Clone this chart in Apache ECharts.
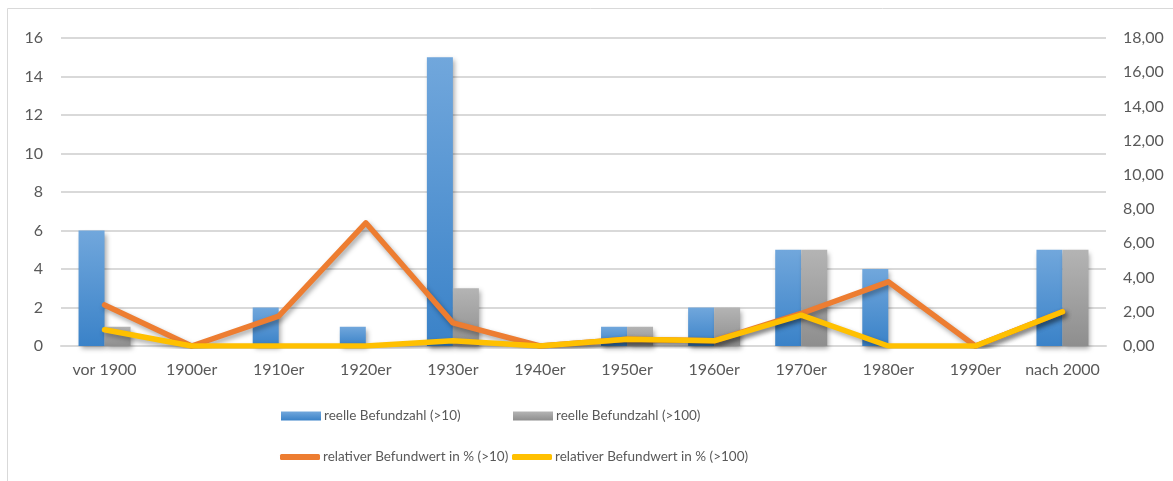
<!DOCTYPE html>
<html>
  <head>
    <meta charset="utf-8">
    <title></title>
    <style media="screen">
    html, body {margin:0; padding:0; background:#fff}
    .box {width:1173px; height:481px}
    </style>
    <script src="https://cdn.jsdelivr.net/npm/echarts@6/dist/echarts.min.js" charset="utf-8"></script>
    <script>
    const categories=['vor 1900','1900er','1910er','1920er','1930er','1940er','1950er','1960er','1970er','1980er','1990er','nach 2000'];
    const befund10=[6, 0, 2, 1, 15, 0, 1, 2, 5, 4, 0, 5];
    const befund100=[1, 0, 0, 0, 3, 0, 1, 2, 5, 0, 0, 5];
    const relativ10=[2.4, 0, 1.75, 7.2, 1.35, 0, 0.4, 0.3, 1.9, 3.75, 0, 2.0];
    const relativ100=[0.95, 0, 0, 0, 0.3, 0, 0.4, 0.3, 1.8, 0, 0, 2.0];
    const names=['reelle Befundzahl (>10)','reelle Befundzahl (>100)','relativer Befundwert in % (>10)','relativer Befundwert in % (>100)'];

    window.onload=function (){
      let font='Lato';
      let textColor='#595959';
      let shadow={shadowColor:'rgba(0,0,0,0.35)', shadowBlur:5, shadowOffsetX:2, shadowOffsetY:3};

      function grad(top, bottom){
        return new echarts.graphic.LinearGradient(0,0,0,1,[{offset:0,color:top},{offset:1,color:bottom}]);
      }

      function legend(name, left, top, icon){
        return {
          data:[name], left:left, top:top, icon:icon,
          itemWidth:40, itemHeight: icon=='rect' ? 9 : 6,
          itemGap:0, padding:0,
          textStyle:{fontFamily:font, fontSize:13.5, color:textColor, padding:[0,0,0,-2]}
        };
      }

      let option={
        animation:false,
        graphic:[{type:'rect', shape:{x:7.5,y:8.5,width:1170,height:480}, style:{fill:'none', stroke:'#d9d9d9', lineWidth:1}, silent:true}],
        legend:[
          legend(names[0], 281, 409, 'rect'),
          legend(names[1], 513, 409, 'rect'),
          legend(names[2], 280, 450, 'roundRect'),
          legend(names[3], 512, 450, 'roundRect')
        ],
        grid:{left:61, right:67, top:38, bottom:135},
        xAxis:{
          type:'category', data:categories,
          axisLine:{lineStyle:{color:'#d9d9d9', width:2}},
          axisTick:{show:false},
          axisLabel:{fontFamily:font, fontSize:16, color:textColor, margin:16, interval:0}
        },
        yAxis:[
          {
            type:'value', min:0, max:16, interval:2,
            axisLine:{show:false}, axisTick:{show:false},
            axisLabel:{fontFamily:font, fontSize:16, color:textColor, margin:18},
            splitLine:{lineStyle:{color:'#d9d9d9', width:2}}
          },
          {
            type:'value', min:0, max:18, interval:2,
            axisLine:{show:false}, axisTick:{show:false},
            axisLabel:{fontFamily:font, fontSize:16, color:textColor, margin:17,
              formatter:v=>v.toFixed(2).replace('.',',')},
            splitLine:{show:false}
          }
        ],
        series:[
          {
            name:names[0], type:'bar', data:befund10, barWidth:26, barGap:'0%',
            itemStyle:Object.assign({color:grad('#71a7dc','#3a82c8')}, shadow)
          },
          {
            name:names[1], type:'bar', data:befund100, barWidth:26, barGap:'0%',
            itemStyle:Object.assign({color:grad('#b4b4b4','#8e8e8e')}, shadow)
          },
          {
            name:names[2], type:'line', yAxisIndex:1, data:relativ10, showSymbol:false, symbol:'none',
            itemStyle:{color:'#ed7d31'},
            lineStyle:Object.assign({color:'#ed7d31', width:5.5, cap:'round', join:'round'}, shadow)
          },
          {
            name:names[3], type:'line', yAxisIndex:1, data:relativ100, showSymbol:false, symbol:'none',
            itemStyle:{color:'#ffc000'},
            lineStyle:Object.assign({color:'#ffc000', width:5.5, cap:'round', join:'round'}, shadow)
          }
        ]
      };

      let chart=echarts.init(document.querySelector('.box'));
      chart.setOption(option);
    };
    </script>
  </head>
  <body>
    <div class="box"></div>
  </body>
</html>
